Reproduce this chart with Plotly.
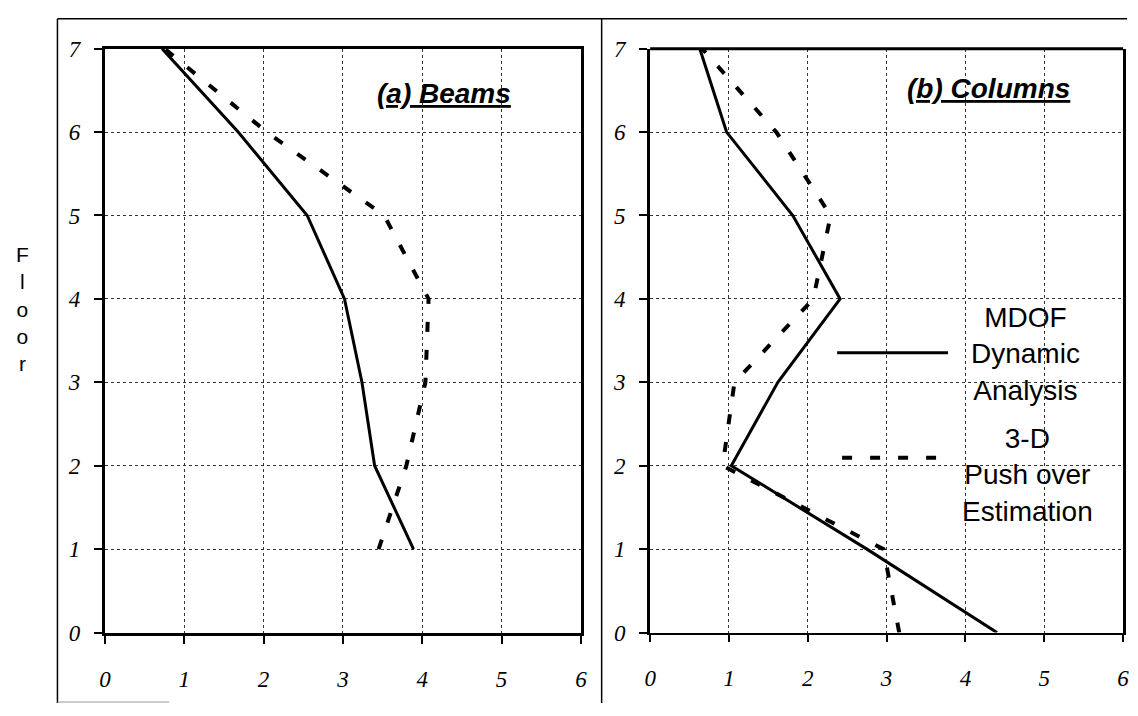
import plotly.graph_objects as go

# ---------------- data ----------------
floors_beams = [1, 2, 3, 4, 5, 6, 7]
beams_mdof = [3.89, 3.40, 3.24, 3.02, 2.55, 1.68, 0.72]
beams_push = [3.45, 3.80, 4.04, 4.08, 3.52, 2.04, 0.75]

floors_cols = [0, 1, 2, 3, 4, 5, 6, 7]
cols_mdof = [4.40, 2.75, 1.03, 1.62, 2.41, 1.81, 0.97, 0.63]
cols_push = [3.16, 2.96, 0.92, 1.07, 2.07, 2.29, 1.60, 0.66]

x_ticks = [0, 1, 2, 3, 4, 5, 6]
y_ticks = [0, 1, 2, 3, 4, 5, 6, 7]

W, H = 1138, 716

fig = go.Figure()

solid = dict(color="black", width=3)
dashed = dict(color="black", width=4, dash="10px,18px")

fig.add_trace(go.Scatter(x=beams_mdof, y=floors_beams, mode="lines", line=solid,
                         xaxis="x", yaxis="y", showlegend=False))
fig.add_trace(go.Scatter(x=beams_push, y=floors_beams, mode="lines", line=dashed,
                         xaxis="x", yaxis="y", showlegend=False))
fig.add_trace(go.Scatter(x=cols_mdof, y=floors_cols, mode="lines", line=solid,
                         xaxis="x2", yaxis="y2", showlegend=False))
fig.add_trace(go.Scatter(x=cols_push, y=floors_cols, mode="lines", line=dashed,
                         xaxis="x2", yaxis="y2", showlegend=False))

tickfont = dict(family="Liberation Serif", size=23, color="black", style="italic")

def xaxis(domain, anchor, lw=3, mirror=True):
    return dict(domain=domain, anchor=anchor, range=[0, 6], tickvals=x_ticks,
                showline=True, linecolor="black", linewidth=lw, mirror=mirror,
                ticks="outside", ticklen=8, tickwidth=2, tickcolor="black",
                showgrid=True, gridcolor="#333", griddash="dot", gridwidth=1,
                zeroline=False, tickfont=tickfont, ticklabelstandoff=16,
                fixedrange=True)

def yaxis(domain, anchor):
    return dict(domain=domain, anchor=anchor, range=[0, 7], tickvals=y_ticks,
                showline=True, linecolor="black", linewidth=3, mirror=True,
                ticks="outside", ticklen=8, tickwidth=2, tickcolor="black",
                showgrid=True, gridcolor="#333", griddash="dot", gridwidth=1,
                zeroline=False, tickfont=tickfont, ticklabelstandoff=9,
                fixedrange=True)

ydom = [(H - 643) / H, (H - 38) / H]
fig.update_layout(
    width=W, height=H,
    margin=dict(l=0, r=0, t=0, b=0),
    paper_bgcolor="white", plot_bgcolor="white",
    xaxis=xaxis([100 / W, 581 / W], "y"),
    yaxis=yaxis(ydom, "x"),
    xaxis2=xaxis([651 / W, 1129 / W], "y2", lw=1.5, mirror=False),
    yaxis2=yaxis(ydom, "x2"),
)

# thick top edge of the right panel (its bottom edge is thin)
fig.add_shape(type="line", xref="x2 domain", yref="y2 domain", x0=0, x1=1, y0=1, y1=1,
              line=dict(color="black", width=3))

title_font = dict(family="Liberation Sans", size=28, color="black")
fig.add_annotation(text="<b><i><u>(a) Beams</u></i></b>", xref="paper", yref="paper",
                   x=443 / W, y=(H - 84) / H, showarrow=False, font=title_font,
                   xanchor="center", yanchor="middle")
fig.add_annotation(text="<b><i><u>(b) Columns</u></i></b>", xref="paper", yref="paper",
                   x=993 / W, y=(H - 79) / H, showarrow=False, font=title_font,
                   xanchor="center", yanchor="middle")

# Floor label
fig.add_annotation(text="F<br>l<br>o<br>o<br>r", xref="paper", yref="paper",
                   x=17 / W, y=(H - 308) / H, showarrow=False,
                   font=dict(family="Liberation Sans", size=21, color="black"),
                   xanchor="center", yanchor="middle")

# legend text
leg_font = dict(family="Liberation Sans", size=28, color="black")
fig.add_annotation(text="MDOF<br>Dynamic<br>Analysis", xref="paper", yref="paper",
                   x=1030 / W, y=(H - 354) / H, showarrow=False, font=leg_font,
                   xanchor="center", yanchor="middle")
fig.add_annotation(text="3-D<br>Push over<br>Estimation", xref="paper", yref="paper",
                   x=1032 / W, y=(H - 480) / H, showarrow=False, font=leg_font,
                   xanchor="center", yanchor="middle")

# legend sample lines
fig.add_shape(type="line", xref="paper", yref="paper",
              x0=840 / W, x1=952 / W, y0=(H - 353) / H, y1=(H - 353) / H,
              line=dict(color="black", width=3))
fig.add_shape(type="line", xref="paper", yref="paper",
              x0=845 / W, x1=940 / W, y0=(H - 462) / H, y1=(H - 462) / H,
              line=dict(color="black", width=4, dash="10px,18px"))

# outer frame lines of the scanned figure
frame = dict(color="black", width=1.5)
fig.add_shape(type="line", xref="paper", yref="paper", x0=52 / W, x1=1133 / W,
              y0=(H - 7) / H, y1=(H - 7) / H, line=frame)
fig.add_shape(type="line", xref="paper", yref="paper", x0=52 / W, x1=52 / W,
              y0=0, y1=(H - 7) / H, line=frame)
fig.add_shape(type="line", xref="paper", yref="paper", x0=602 / W, x1=602 / W,
              y0=0, y1=(H - 7) / H, line=frame)
fig.add_shape(type="line", xref="paper", yref="paper", x0=52 / W, x1=165 / W,
              y0=1 / H, y1=1 / H, line=dict(color="#999", width=1))

fig.write_html("out.html", config={"displayModeBar": False},
               post_script="document.body.style.margin='0';document.body.style.overflow='hidden';")
